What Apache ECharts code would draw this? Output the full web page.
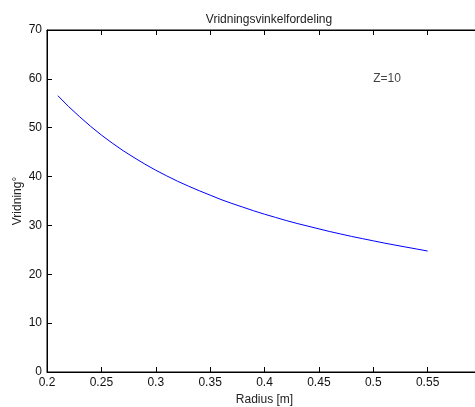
<!DOCTYPE html>
<html>
<head>
<meta charset="utf-8">
<script src="https://cdn.jsdelivr.net/npm/echarts@6/dist/echarts.min.js"></script>
<style>
html,body{margin:0;padding:0;background:#fff;}
#wrap{position:relative;width:475px;height:407px;overflow:hidden;}
#c{position:absolute;left:0;top:0;width:492px;height:407px;}
</style>
</head>
<body>
<div id="wrap"><div id="c"></div></div>
<script>
var radius = [0.21,0.22,0.23,0.24,0.25,0.26,0.27,0.28,0.29,0.30,0.31,0.32,0.33,0.34,0.35,0.36,0.37,0.38,0.39,0.40,0.41,0.42,0.43,0.44,0.45,0.46,0.47,0.48,0.49,0.50,0.51,0.52,0.53,0.54,0.55];
var vridning = [56.55,54.3,52.25,50.3,48.5,46.85,45.3,43.9,42.55,41.3,40.15,39.05,38.05,37.1,36.2,35.3,34.5,33.75,33.0,32.3,31.65,31.0,30.4,29.85,29.3,28.75,28.25,27.75,27.3,26.85,26.4,25.98,25.57,25.17,24.76];
var xTicks = [0.2,0.25,0.3,0.35,0.4,0.45,0.5,0.55,0.6];
var yTicks = [0,10,20,30,40,50,60,70];
var annotation = {x:0.5, y:60, text:'Z=10'};
var titleText = 'Vridningsvinkelfordeling';
var xName = 'Radius [m]';
var yName = 'Vridning°';

var font = 'Arial, "Liberation Sans", sans-serif';
var chart = echarts.init(document.getElementById('c'), null, {renderer:'canvas'});
var lineData = radius.map(function(r,i){return [r, vridning[i]];});
chart.setOption({
  animation:false,
  backgroundColor:'#fff',
  title:{text:titleText, left:264, textAlign:'center', top:9,
    textStyle:{fontFamily:font, fontSize:12, fontWeight:'normal', color:'#222'}},
  grid:{left:47, top:30, bottom:35, right:10, show:true, borderColor:'#000', borderWidth:1,
    containLabel:false, outerBoundsMode:'none'},
  xAxis:[{
    type:'value', min:xTicks[0], max:xTicks[xTicks.length-1], interval:0.05, position:'bottom',
    name:xName, nameLocation:'middle', nameGap:20,
    nameTextStyle:{fontFamily:font, fontSize:12, color:'#222'},
    axisLine:{show:true, lineStyle:{color:'#000'}},
    axisTick:{inside:true, length:5, lineStyle:{color:'#000'}},
    axisLabel:{fontFamily:font, fontSize:12, color:'#111', margin:5, showMaxLabel:false,
      formatter:function(v){return v >= 0.599 ? '' : String(Math.round(v*100)/100);}},
    splitLine:{show:false}
  },{
    type:'value', min:xTicks[0], max:xTicks[xTicks.length-1], interval:0.05, position:'top',
    axisLine:{show:true, lineStyle:{color:'#000'}},
    axisTick:{inside:true, length:5, lineStyle:{color:'#000'}},
    axisLabel:{show:false}, splitLine:{show:false}
  }],
  yAxis:[{
    type:'value', min:yTicks[0], max:yTicks[yTicks.length-1], interval:10, position:'left',
    name:yName, nameLocation:'middle', nameGap:23, nameRotate:90, nameMoveOverlap:false,
    nameTextStyle:{fontFamily:font, fontSize:12, color:'#222'},
    axisLine:{show:true, lineStyle:{color:'#000'}},
    axisTick:{inside:true, length:5, lineStyle:{color:'#000'}},
    axisLabel:{fontFamily:font, fontSize:12, color:'#111', margin:5},
    splitLine:{show:false}
  }],
  series:[{
    type:'line', data:lineData, showSymbol:false, symbol:'none', smooth:false,
    lineStyle:{color:'#0000ff', width:1}, xAxisIndex:0, yAxisIndex:0
  },{
    type:'scatter', data:[[annotation.x, annotation.y]], symbolSize:0.01,
    label:{show:true, position:'right', distance:0, formatter:annotation.text,
      fontFamily:font, fontSize:12, color:'#111'},
    xAxisIndex:0, yAxisIndex:0
  }]
});
</script>
</body>
</html>
